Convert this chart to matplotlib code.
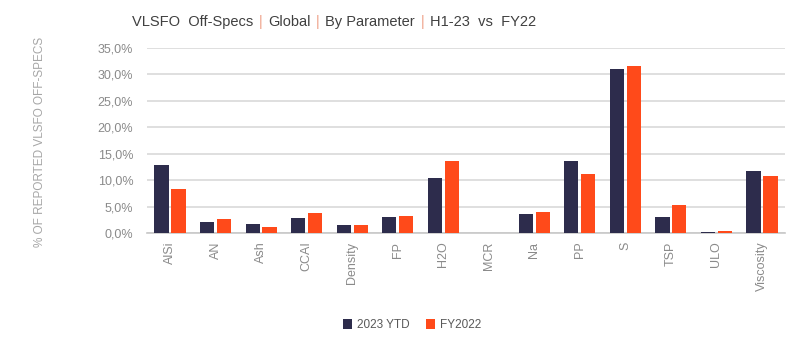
import numpy as np
import matplotlib.pyplot as plt
from matplotlib.ticker import FuncFormatter

# -----------------------------------------
# DATA
# -----------------------------------------
parameters = ["AlSi", "AN", "Ash", "CCAI", "Density", "FP", "H2O",
              "MCR", "Na", "PP", "S", "TSP", "ULO", "Viscosity"]

ytd_2023 = [12.9, 2.1, 1.75, 2.8, 1.6, 3.0, 10.4,
            0.0, 3.7, 13.7, 31.0, 3.15, 0.25, 11.8]

fy_2022 = [8.4, 2.6, 1.25, 3.9, 1.6, 3.2, 13.6,
           0.0, 4.1, 11.2, 31.5, 5.3, 0.35, 10.9]

series_names = ["2023 YTD", "FY2022"]

title_parts = ["VLSFO  Off-Specs", "Global", "By Parameter", "H1-23  vs  FY22"]

# -----------------------------------------
# STYLE
# -----------------------------------------
DARK = "#2d2c4c"
ORANGE = "#ff4a1a"
TEXT_GRAY = "#8a8a8a"
GRID_GRAY = "#d9d9d9"

plt.rcParams["font.family"] = ["Liberation Sans", "DejaVu Sans"]

fig = plt.figure(figsize=(8, 3.55), dpi=100)
ax = fig.add_axes([0.184, 0.343, 0.797, 0.522])

x = np.arange(len(parameters))
width = 0.31
offset = 0.186

ax.bar(x - offset, ytd_2023, width, color=DARK, label=series_names[0], zorder=3)
ax.bar(x + offset, fy_2022, width, color=ORANGE, label=series_names[1], zorder=3)

ax.set_xlim(-0.5, len(parameters) - 0.5)
ax.set_ylim(0, 35)
ax.set_yticks(np.arange(0, 36, 5))
ax.yaxis.set_major_formatter(
    FuncFormatter(lambda v, p: f"{v:.1f}%".replace(".", ","))
)

ax.grid(axis="y", color=GRID_GRAY, linewidth=1.2, zorder=0)
for side in ["top", "right", "left"]:
    ax.spines[side].set_visible(False)
ax.spines["bottom"].set_color("#c8c8c8")
ax.spines["bottom"].set_linewidth(1.2)

ax.set_xticks(x)
ax.set_xticklabels(parameters, rotation=90)
ax.tick_params(axis="both", length=0, colors=TEXT_GRAY, labelsize=9)
ax.tick_params(axis="x", pad=6)
ax.tick_params(axis="y", pad=10)

fig.text(0.05, 0.6, "% OF REPORTED VLSFO OFF-SPECS", rotation=90,
         ha="center", va="center", color="#a6a6a6", fontsize=8.5)

# -----------------------------------------
# TITLE (pieces with orange separators)
# -----------------------------------------
prev = fig.text(0.165, 0.928, title_parts[0], color="#404040", fontsize=10.5,
                ha="left", va="baseline")
for part in title_parts[1:]:
    sep = ax.annotate("|", xy=(1, 0), xycoords=prev, xytext=(4, 0),
                      textcoords="offset points", ha="left", va="bottom",
                      color="#ef9f85", fontsize=10.5, annotation_clip=False)
    prev = ax.annotate(part, xy=(1, 0), xycoords=sep, xytext=(4, 0),
                       textcoords="offset points", ha="left", va="bottom",
                       color="#404040", fontsize=10.5, annotation_clip=False)

# -----------------------------------------
# LEGEND
# -----------------------------------------
fig.legend(loc="center", bbox_to_anchor=(0.515, 0.085), ncol=2, frameon=False,
           fontsize=8.5, handlelength=0.8, handleheight=0.9,
           columnspacing=1.4, handletextpad=0.4, labelcolor="#595959")

fig.savefig("out.png", dpi=100)
